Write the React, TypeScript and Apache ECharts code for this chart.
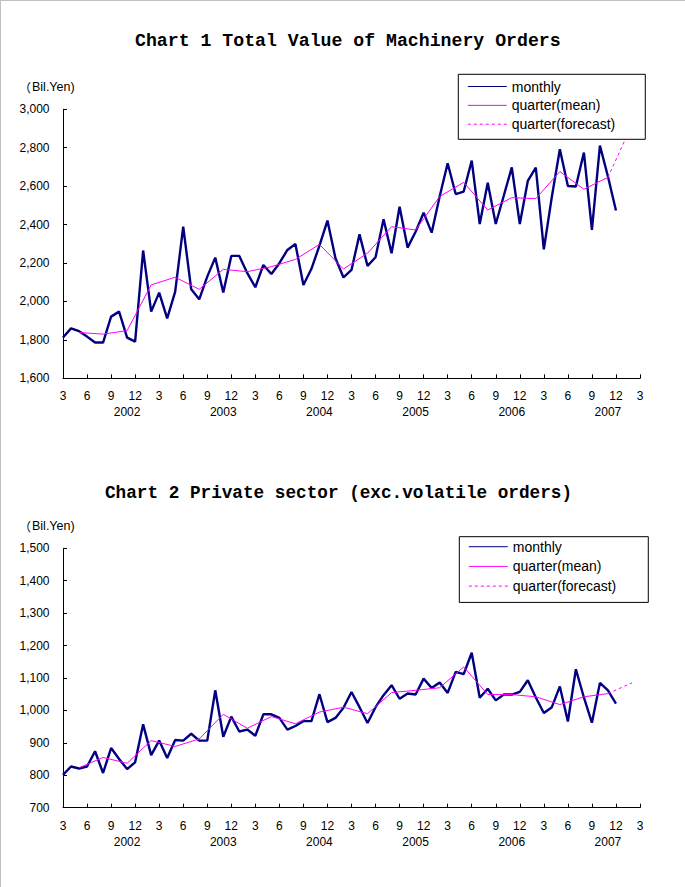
import React, { useEffect, useRef } from 'react';
import * as echarts from 'echarts';

// Categories: monthly, March 2002 .. March 2008
const startYear = 2002;
const months: string[] = [];
for (let y = startYear; y <= 2008; y++) {
  for (let m = 1; m <= 12; m++) {
    if (y === 2002 && m < 3) continue;
    if (y === 2008 && m > 3) continue;
    months.push(`${y}-${String(m).padStart(2, '0')}`);
  }
}

// Chart 1: Total value of machinery orders (Bil.Yen), monthly Mar 2002 .. Dec 2007
const chart1Monthly = [
  1812, 1860, 1845, 1817, 1786, 1786, 1921, 1947, 1812, 1791,
  2265, 1947, 2046, 1912, 2051, 2389, 2063, 2011, 2129, 2228, 2046, 2237,
  2237, 2147, 2074, 2190, 2143, 2199, 2268, 2299, 2086, 2170, 2290, 2421,
  2225, 2125, 2164, 2349, 2185, 2230, 2428, 2251, 2493, 2280, 2363, 2462,
  2358, 2546, 2719, 2559, 2572, 2733, 2403, 2618, 2403, 2550, 2698, 2403,
  2627, 2696, 2271, 2545, 2792, 2601, 2598, 2775, 2372, 2811, 2650, 2473,
];
// quarterly means, plotted at middle month: May02, Aug02, ... Nov07
const chart1QuarterMean = [
  1838, 1830, 1848, 2086, 2126, 2063, 2167, 2155, 2181, 2219, 2297, 2169,
  2251, 2389, 2372, 2546, 2620, 2476, 2540, 2535, 2676, 2584, 2646,
];
// forecast: Nov07 -> Feb08
const chart1Forecast = [2646, 2920];

// Chart 2: Private sector (exc. volatile orders)
const chart2Monthly = [
  801, 827, 821, 827, 874, 807, 884, 850, 819, 840,
  957, 862, 907, 853, 909, 907, 928, 907, 907, 1062, 919, 981,
  935, 941, 922, 988, 988, 977, 941, 952, 967, 967, 1050, 964,
  977, 1008, 1057, 1010, 961, 1010, 1047, 1078, 1036, 1052, 1049, 1098,
  1069, 1086, 1054, 1119, 1112, 1178, 1039, 1067, 1031, 1049, 1049, 1057,
  1093, 1040, 992, 1010, 1074, 966, 1127, 1040, 962, 1085, 1062, 1021,
];
const chart2QuarterMean = [
  823, 855, 837, 907, 889, 912, 988, 945, 981, 959, 995, 1010,
  990, 1055, 1062, 1070, 1134, 1049, 1049, 1042, 1018, 1042, 1052,
];
const chart2Forecast = [1052, 1085];

const yTicks1 = { min: 1600, max: 3000, interval: 200 };
const yTicks2 = { min: 700, max: 1500, interval: 100 };

const legendNames = ['monthly', 'quarter(mean)', 'quarter(forecast)'];
const titles = ['Chart 1 Total Value of Machinery Orders', 'Chart 2 Private sector (exc.volatile orders)'];
const unitParen = '（';
const unitRest = 'Bil.Yen)';

const FIRST_MEAN_IDX = 2; // May 2002
const FORECAST_IDX = [68, 71]; // Nov 2007, Feb 2008

function padMonthly(vals: number[]) {
  return months.map((_, i) => (i < vals.length ? vals[i] : null));
}
function padQuarter(vals: number[]) {
  const arr: (number | null)[] = months.map(() => null);
  vals.forEach((v, k) => {
    arr[FIRST_MEAN_IDX + 3 * k] = v;
  });
  return arr;
}
function padForecast(vals: number[]) {
  const arr: (number | null)[] = months.map(() => null);
  vals.forEach((v, k) => {
    arr[FORECAST_IDX[k]] = v;
  });
  return arr;
}

const FONT = 'Liberation Sans, Arial, sans-serif';

function monthAxis(gridIndex: number) {
  return {
    type: 'category',
    gridIndex,
    data: months,
    boundaryGap: false,
    axisLine: { show: true, onZero: false, lineStyle: { color: '#000', width: 1 } },
    axisTick: { show: true, inside: true, length: 4, interval: 2, lineStyle: { color: '#000' } },
    axisLabel: {
      interval: 2,
      formatter: (v: string) => String(Number(v.slice(5))),
      fontSize: 12,
      color: '#000',
      fontFamily: FONT,
      margin: 12,
    },
    splitLine: { show: false },
  };
}
function yearAxis(gridIndex: number) {
  return {
    type: 'category',
    gridIndex,
    data: months,
    boundaryGap: false,
    position: 'bottom',
    offset: 16,
    axisLine: { show: false },
    axisTick: { show: false },
    axisLabel: {
      interval: (_i: number, v: string) => v.endsWith('-11'),
      formatter: (v: string) => v.slice(0, 4),
      fontSize: 12,
      color: '#000',
      fontFamily: FONT,
      margin: 12,
    },
    splitLine: { show: false },
  };
}
function valueAxis(gridIndex: number, t: { min: number; max: number; interval: number }) {
  return {
    type: 'value',
    gridIndex,
    min: t.min,
    max: t.max,
    interval: t.interval,
    axisLine: { show: true, lineStyle: { color: '#000', width: 1 } },
    axisTick: { show: true, inside: true, length: 4, lineStyle: { color: '#000' } },
    axisLabel: {
      formatter: (v: number) => v.toLocaleString('en-US'),
      fontSize: 12,
      color: '#000',
      fontFamily: FONT,
      margin: 13.5,
    },
    splitLine: { show: false },
  };
}
function seriesFor(xIdx: number, yIdx: number, monthly: number[], mean: number[], fc: number[]) {
  return [
    {
      name: legendNames[0],
      type: 'line',
      xAxisIndex: xIdx,
      yAxisIndex: yIdx,
      data: padMonthly(monthly),
      symbol: 'none',
      lineStyle: { color: '#000080', width: 2.4 },
      itemStyle: { color: '#000080' },
      z: 2,
    },
    {
      name: legendNames[1],
      type: 'line',
      xAxisIndex: xIdx,
      yAxisIndex: yIdx,
      data: padQuarter(mean),
      connectNulls: true,
      symbol: 'none',
      lineStyle: { color: '#ff00ff', width: 1 },
      itemStyle: { color: '#ff00ff' },
      z: 3,
    },
    {
      name: legendNames[2],
      type: 'line',
      xAxisIndex: xIdx,
      yAxisIndex: yIdx,
      data: padForecast(fc),
      connectNulls: true,
      symbol: 'none',
      lineStyle: { color: '#ff00ff', width: 1, type: [3, 3] },
      itemStyle: { color: '#ff00ff' },
      z: 3,
    },
  ];
}
function legendAt(left: number, top: number, pad: number[], gap: number) {
  return {
    left,
    top,
    orient: 'vertical',
    data: legendNames,
    itemWidth: 39,
    itemHeight: 14,
    itemGap: gap,
    padding: pad,
    backgroundColor: '#fff',
    borderColor: '#000',
    borderWidth: 1,
    borderRadius: 0,
    selectedMode: false,
    itemStyle: { opacity: 0 },
    lineStyle: { width: 1 },
    textStyle: { fontSize: 14, fontFamily: FONT, color: '#000' },
    z: 10,
  };
}
function unitText(y: number) {
  return {
    type: 'text',
    x: 19,
    y,
    style: {
      text: `{p|${unitParen}}{t|${unitRest}}`,
      rich: {
        p: { fontSize: 12, fontFamily: 'Noto Sans CJK JP, sans-serif', fill: '#000', width: 13 },
        t: { fontSize: 12.5, fontFamily: FONT, fill: '#000' },
      },
      textVerticalAlign: 'middle',
    },
  };
}

export default function App() {
  const ref = useRef<HTMLDivElement>(null);
  useEffect(() => {
    if (!ref.current) return;
    const chart = echarts.init(ref.current, undefined, { renderer: 'svg' });
    chart.setOption({
      animation: false,
      backgroundColor: '#fff',
      title: [
        {
          text: titles[0],
          left: 135,
          top: 31.5,
          padding: 0,
          textStyle: { fontFamily: 'Liberation Mono, monospace', fontWeight: 'bold', fontSize: 18.2, lineHeight: 18, color: '#000' },
        },
        {
          text: titles[1],
          left: 105,
          top: 484.2,
          padding: 0,
          textStyle: { fontFamily: 'Liberation Mono, monospace', fontWeight: 'bold', fontSize: 17.7, lineHeight: 18, color: '#000' },
        },
      ],
      grid: [
        { left: 63, top: 109.3, width: 577, height: 269, containLabel: false },
        { left: 63, top: 548.3, width: 577, height: 259.4, containLabel: false },
      ],
      xAxis: [monthAxis(0), yearAxis(0), monthAxis(1), yearAxis(1)],
      yAxis: [valueAxis(0, yTicks1), valueAxis(1, yTicks2)],
      legend: [
        legendAt(458.3, 74.3, [5.2, 30, 8.1, 9], 4.85),
        legendAt(459.3, 536.7, [3, 32, 9.3, 9], 5.7),
      ],
      series: [
        ...seriesFor(0, 0, chart1Monthly, chart1QuarterMean, chart1Forecast),
        ...seriesFor(2, 1, chart2Monthly, chart2QuarterMean, chart2Forecast),
      ],
      graphic: [
        { type: 'line', shape: { x1: 0.5, y1: 0, x2: 0.5, y2: 887 }, style: { stroke: '#c0c0c0', lineWidth: 1 } },
        { type: 'line', shape: { x1: 0, y1: 0.5, x2: 685, y2: 0.5 }, style: { stroke: '#c0c0c0', lineWidth: 1 } },
        unitText(87.3),
        unitText(526),
      ],
    });
    return () => chart.dispose();
  }, []);
  return <div ref={ref} style={{ position: 'absolute', left: 0, top: 0, width: 685, height: 887 }} />;
}
